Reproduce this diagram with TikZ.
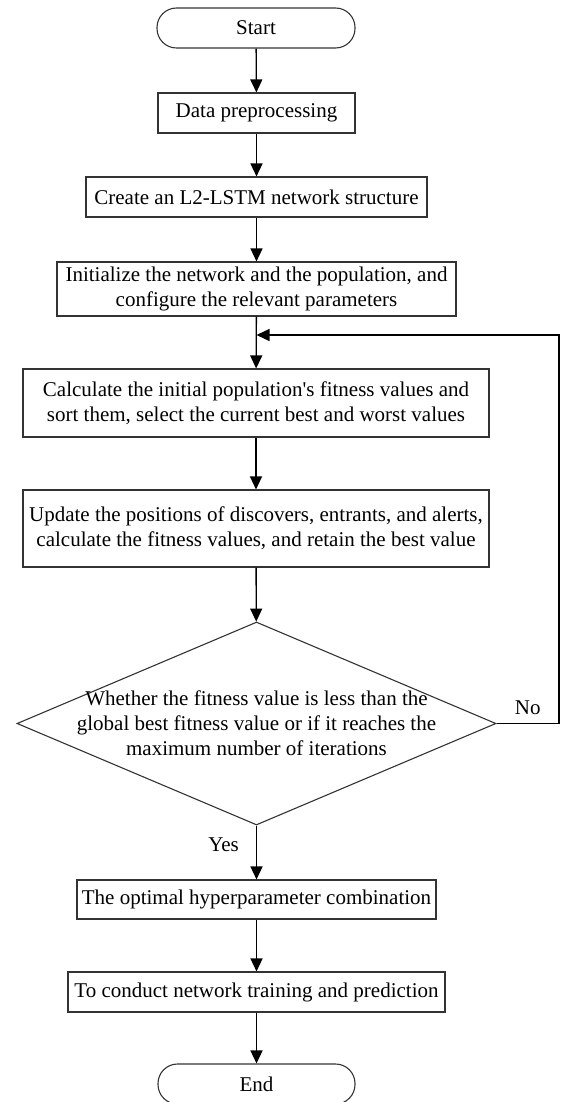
\documentclass[tikz,border=0pt]{standalone}
\usepackage{fontspec}
\setmainfont{Liberation Serif}
\usepackage{tikz}
\usetikzlibrary{arrows.meta, shapes.geometric}

\begin{document}
\begin{tikzpicture}[x=1pt, y=-1pt,
    every node/.style={font=\fontsize{21pt}{25pt}\selectfont, align=center, inner sep=0pt},
    box/.style={draw=black!80, line width=1.1pt, rectangle, minimum height=40pt},
    term/.style={draw=black!80, line width=1.1pt, rectangle, rounded corners=19.5pt, minimum width=198pt, minimum height=40pt},
    decision/.style={draw=black!80, line width=1.1pt, diamond, minimum width=479pt, minimum height=203pt},
    flow/.style={-{Triangle[length=13pt,width=12pt]}, line width=1.3pt},
    tag/.style={inner sep=0pt}]
  \useasboundingbox (0,0) rectangle (561,1102);
  % main column
  \node [term] (start) at (256,28) {Start};
  \node [box, minimum width=197pt] (prep) at (256.5,113) {Data preprocessing};
  \node [box, minimum width=341pt] (create) at (256.5,197) {Create an L2-LSTM network structure};
  \node [box, minimum width=399pt, minimum height=54pt] (init) at (256.5,289)
    {Initialize the network and the population, and\\configure the relevant parameters};
  \node [box, minimum width=466pt, minimum height=68pt] (fit) at (256,403)
    {Calculate the initial population\textquotesingle s fitness values and\\sort them, select the current best and worst values};
  \node [box, minimum width=466pt, minimum height=77pt] (update) at (256,528.5)
    {Update the positions of discovers, entrants, and alerts,\\calculate the fitness values, and retain the best value};
  \node [decision] (judge) at (256.5,723.5) {};
  \node (judgetext) at (judge.center)
    {Whether the fitness value is less than the\\global best fitness value or if it reaches the\\maximum number of iterations};
  \node [box, minimum width=359pt, minimum height=39pt] (best) at (256.5,899.5) {The optimal hyperparameter combination};
  \node [box, minimum width=377pt] (train) at (256.5,992) {To conduct network training and prediction};
  \node [term, minimum width=197pt] (stop) at (256.5,1084) {End};
  % loop back
  \coordinate (turn) at (559,335);
  \coordinate (merge) at (256.5,335);

  \draw [flow] (start) -- (prep);
  \draw [flow] (prep) -- (create);
  \draw [flow] (create) -- (init);
  \draw [flow] (init) -- (fit);
  \draw [flow] (fit) -- (update);
  \draw [flow] (update) -- (judge);
  \draw [flow] (judge) -- node [tag, pos=.36, left=17pt] (yes) {Yes} (best);
  \draw [flow] (best) -- (train);
  \draw [flow] (train) -- (stop);
  \draw [flow] (judge.east) -| node [tag, pos=.25, above=8pt] (no) {No} (turn) -- (merge);
\end{tikzpicture}
\end{document}
